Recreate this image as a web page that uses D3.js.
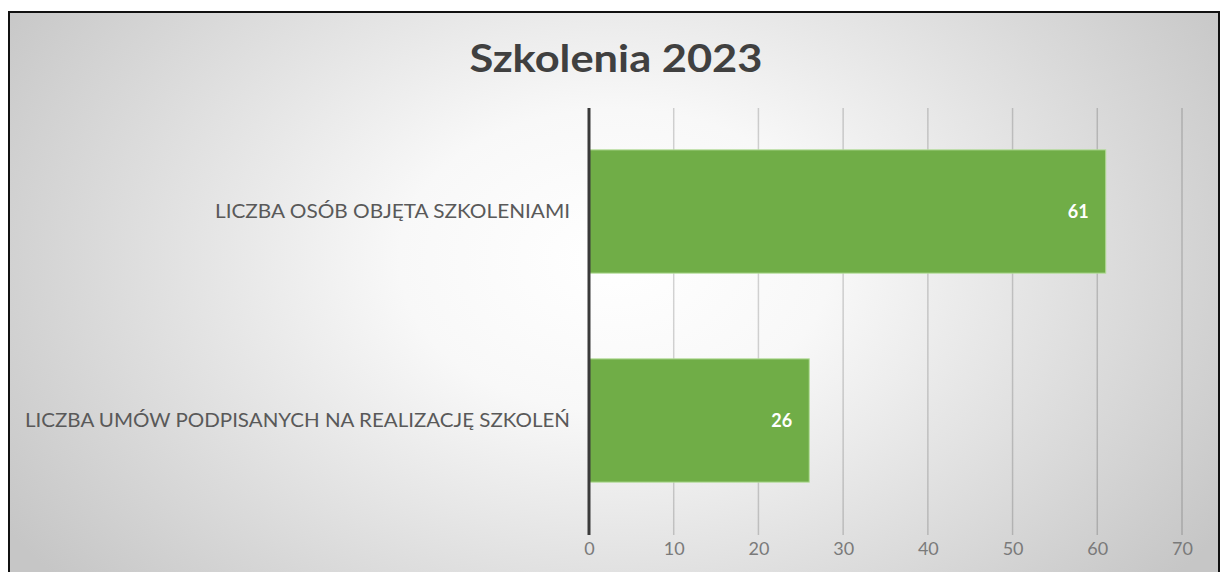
<!DOCTYPE html>
<html><head><meta charset="utf-8">
<script src="https://cdn.jsdelivr.net/npm/d3@7"></script>
<style>html,body{margin:0;padding:0;background:#fff;}svg{display:block;}</style>
</head><body>
<script>
const categories = ["LICZBA OSÓB OBJĘTA SZKOLENIAMI", "LICZBA UMÓW PODPISANYCH NA REALIZACJĘ SZKOLEŃ"];
const values = [61, 26];
const tickValues = [0, 10, 20, 30, 40, 50, 60, 70];
const title = "Szkolenia 2023";

const W = 1224, H = 572;
const svg = d3.select("body").append("svg").attr("width", W).attr("height", H);
const defs = svg.append("defs");
const rg = defs.append("radialGradient").attr("id", "bg")
  .attr("gradientUnits", "userSpaceOnUse").attr("cx", 615).attr("cy", 260).attr("r", 720)
  .attr("gradientTransform", "translate(615,260) scale(1,0.7) translate(-615,-260)");
rg.append("stop").attr("offset", "0").attr("stop-color", "#ffffff");
rg.append("stop").attr("offset", "0.3").attr("stop-color", "#f8f8f8");
rg.append("stop").attr("offset", "1").attr("stop-color", "#c6c6c6");

svg.append("rect").attr("x", 9).attr("y", 12).attr("width", 1210).attr("height", 580)
  .attr("fill", "url(#bg)").attr("stroke", "#111").attr("stroke-width", 2);

const FONT = "Lato, 'Open Sans', sans-serif";
const x = d3.scaleLinear().domain([0, 70]).range([589, 1182]);
const y = d3.scaleBand().domain(categories).range([107, 525]).paddingInner(0.41).paddingOuter(0.205);

// gridlines
svg.append("g").selectAll("line").data(tickValues.slice(1)).join("line")
  .attr("x1", d => x(d)).attr("x2", d => x(d)).attr("y1", 108).attr("y2", 535)
  .attr("stroke", "rgba(0,0,0,0.17)").attr("stroke-width", 1.5);

// bars
svg.append("g").selectAll("rect").data(values).join("rect")
  .attr("x", x(0)).attr("y", (d, i) => y(categories[i]))
  .attr("width", d => x(d) - x(0)).attr("height", y.bandwidth())
  .attr("fill", "#70ad47").attr("stroke", "#b5dd9b").attr("stroke-width", 1);

// axis line
svg.append("line").attr("x1", x(0)).attr("x2", x(0)).attr("y1", 108).attr("y2", 535)
  .attr("stroke", "#3a3a3a").attr("stroke-width", 3);

// x axis tick labels
const xAxis = d3.axisBottom(x).tickValues(tickValues).tickSize(0).tickPadding(0);
const gx = svg.append("g").attr("transform", "translate(0,542)").call(xAxis);
gx.select(".domain").remove();
gx.selectAll("text").attr("font-family", FONT).attr("font-size", 18)
  .attr("fill", "#7a7a7a").attr("dy", "0.71em");

// category labels
const labelWidths = [355, 545];
const yAxis = d3.axisLeft(y).tickSize(0).tickPadding(0);
const gy = svg.append("g").attr("transform", "translate(570,0)").call(yAxis);
gy.select(".domain").remove();
gy.selectAll("text").attr("font-family", FONT).attr("font-size", 19)
  .attr("fill", "#595959").attr("dy", "0.36em")
  .attr("textLength", d => labelWidths[categories.indexOf(d)])
  .attr("lengthAdjust", "spacingAndGlyphs");

// value labels
svg.append("g").selectAll("text").data(values).join("text")
  .attr("x", d => x(d) - 17).attr("y", (d, i) => y(categories[i]) + y.bandwidth() / 2)
  .attr("dy", "0.36em").attr("text-anchor", "end")
  .attr("font-family", FONT).attr("font-weight", "bold").attr("font-size", 18)
  .attr("fill", "#ffffff").text(d => d);

// title
svg.append("text").attr("x", 616).attr("y", 72).attr("text-anchor", "middle")
  .attr("font-family", FONT).attr("font-weight", "bold").attr("font-size", 38)
  .attr("textLength", 293).attr("lengthAdjust", "spacingAndGlyphs")
  .attr("fill", "#404040").text(title);
</script>
</body></html>
